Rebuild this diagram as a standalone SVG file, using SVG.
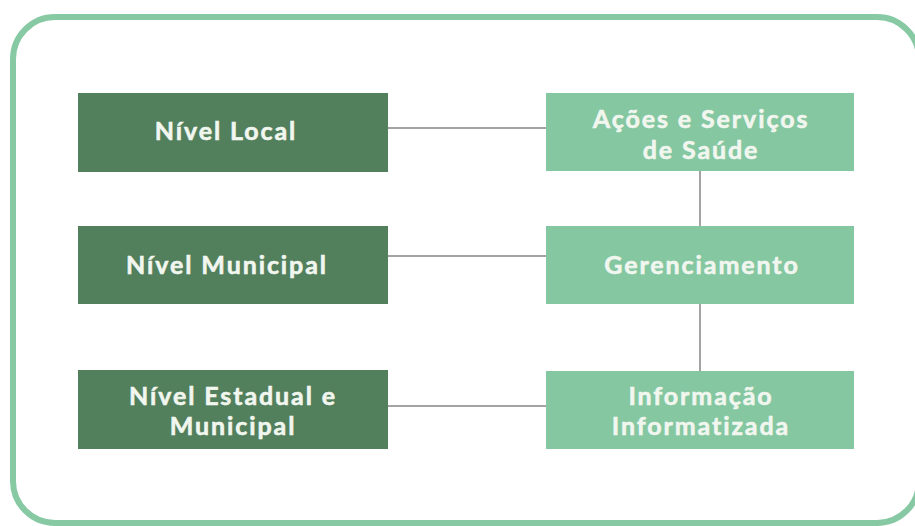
<svg xmlns="http://www.w3.org/2000/svg" width="915" height="526" viewBox="0 0 915 526">
<style>
.frame{fill:#ffffff;stroke:#86c9a3;stroke-width:6}
.dark{fill:#527f5c}
.light{fill:#84c7a1}
.t{font-family:Lato,"Liberation Sans",sans-serif;font-weight:700;font-size:25px;letter-spacing:1.9px;fill:#f1f6ef;stroke:#f1f6ef;stroke-width:0.6;text-anchor:middle}
.c{stroke:#a3a3a3;stroke-width:2;fill:none}
</style>
<rect width="915" height="526" fill="#ffffff"/>
<rect class="frame" x="13" y="17" width="906" height="506" rx="42" ry="42"/>
<g id="connectors">
<line class="c" x1="387" y1="128" x2="546" y2="128"/>
<line class="c" x1="387" y1="256" x2="546" y2="256"/>
<line class="c" x1="387" y1="406" x2="546" y2="406"/>
<line class="c" x1="700" y1="171" x2="700" y2="226"/>
<line class="c" x1="700" y1="304" x2="700" y2="371"/>
</g>
<g id="nivel-local">
<rect class="dark" x="78" y="93" width="310" height="79"/>
<text class="t" x="226" y="140">Nível Local</text>
</g>
<g id="nivel-municipal">
<rect class="dark" x="78" y="226" width="310" height="78"/>
<text class="t" x="227" y="274">Nível Municipal</text>
</g>
<g id="nivel-estadual">
<rect class="dark" x="78" y="370" width="310" height="79"/>
<text class="t" x="233" y="404.5">Nível Estadual e</text>
<text class="t" x="233" y="435">Municipal</text>
</g>
<g id="acoes">
<rect class="light" x="546" y="93" width="308" height="78"/>
<text class="t" x="701" y="128">Ações e Serviços</text>
<text class="t" x="701" y="158.5">de Saúde</text>
</g>
<g id="gerenciamento">
<rect class="light" x="546" y="226" width="308" height="78"/>
<text class="t" x="702" y="274">Gerenciamento</text>
</g>
<g id="informacao">
<rect class="light" x="546" y="371" width="308" height="78"/>
<text class="t" x="701" y="404.5">Informação</text>
<text class="t" x="701" y="435">Informatizada</text>
</g>
</svg>
